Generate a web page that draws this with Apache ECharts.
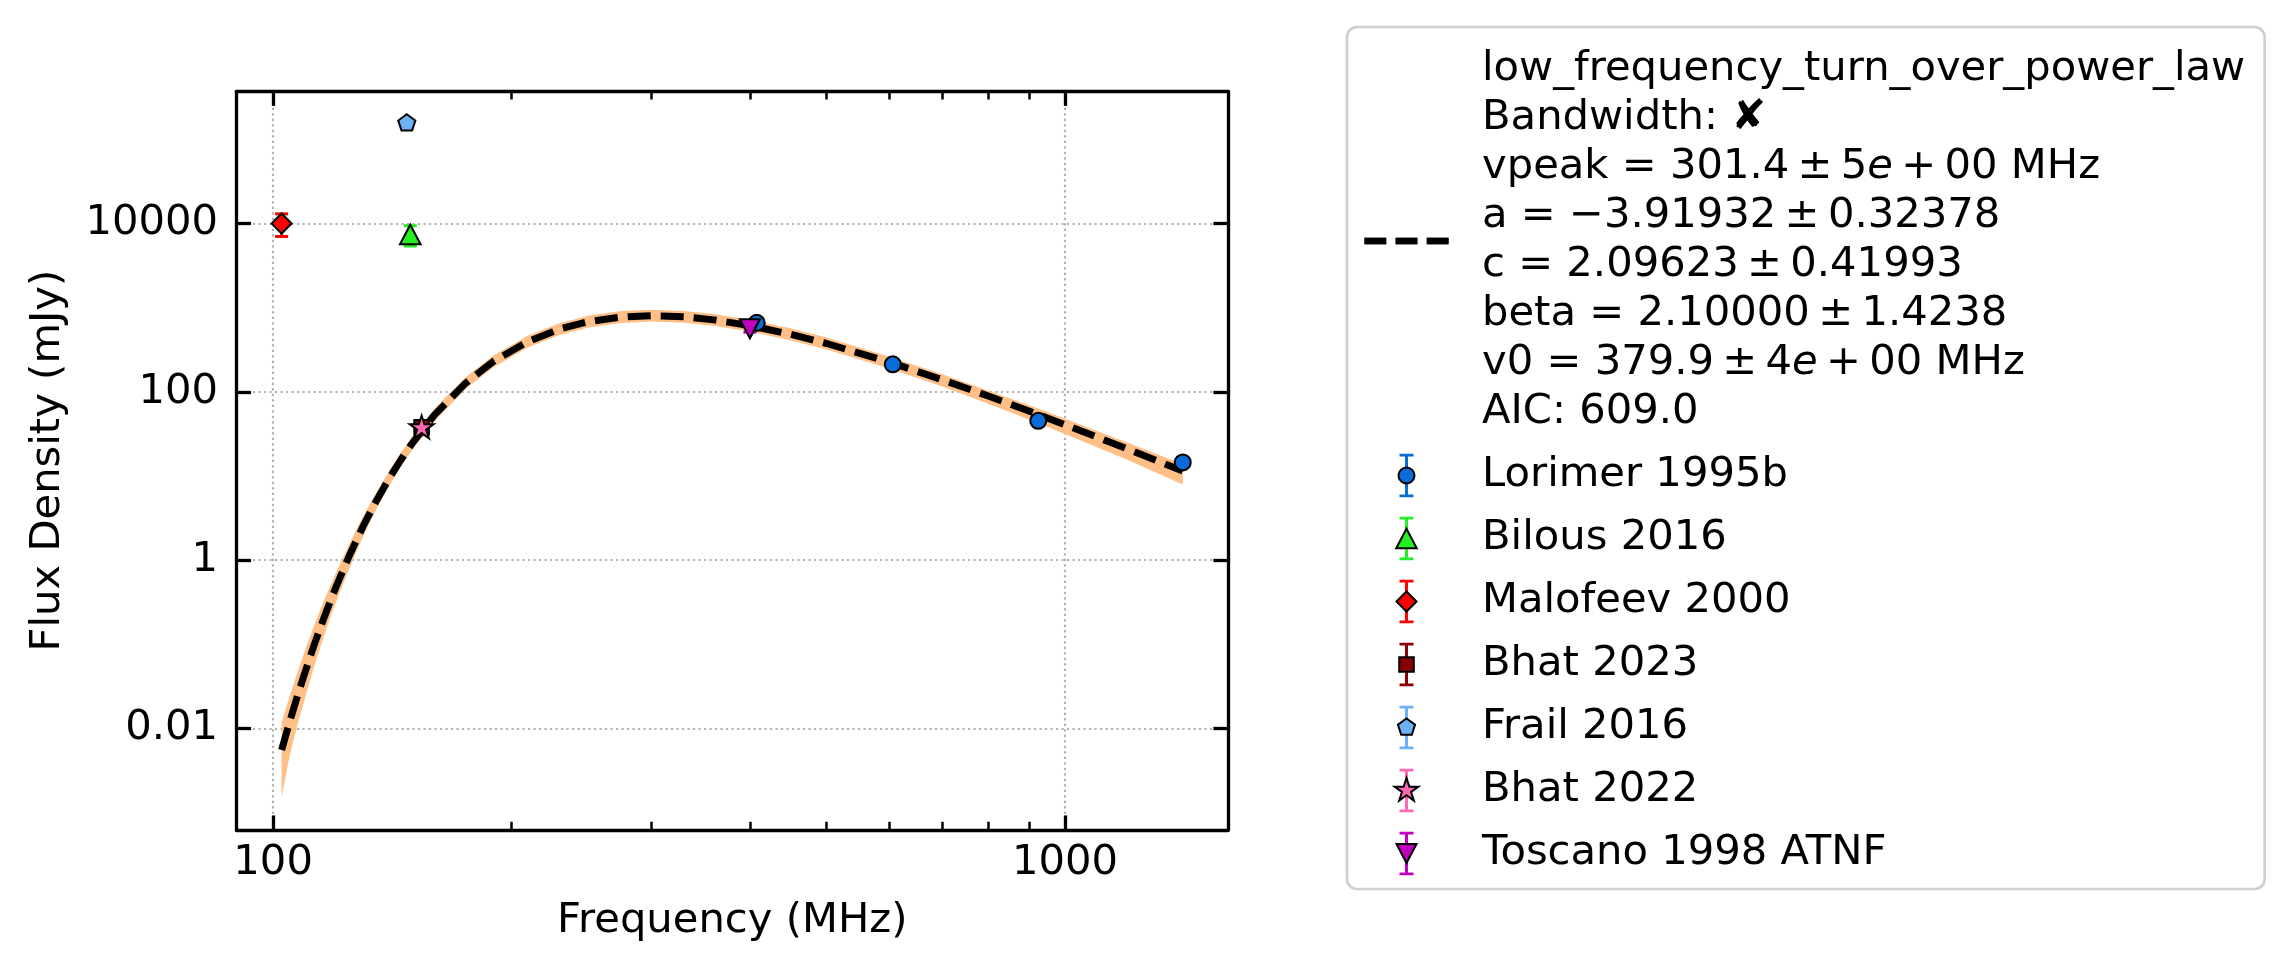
<!DOCTYPE html>
<html>
<head>
<meta charset="utf-8">
<title>Flux density spectrum</title>
<script src="https://cdn.jsdelivr.net/npm/echarts@6.0.0/dist/echarts.min.js"></script>
<style>
  html, body { margin: 0; padding: 0; background: #fff; }
  #chart { width: 2289px; height: 975px; }
</style>
</head>
<body>
<div id="chart"></div>
<script>
// values (frequency in MHz, flux density in mJy)
const lorimerFreq = [408, 606, 925, 1408];
const lorimerFlux = [660, 212, 45.2, 14.5];
const lorimerErr = [66, 21, 4.5, 1.5];

const bilousFreq = [149];
const bilousFlux = [7400];
const bilousErr = [2000];

const malofeevFreq = [102.5];
const malofeevFlux = [10000];
const malofeevErr = [3000];

const bhat23Freq = [154];
const bhat23Flux = [38];
const bhat23Err = [7];

const frailFreq = [147.5];
const frailFlux = [155000];
const frailErr = [15000];

const bhat22Freq = [154];
const bhat22Flux = [37];
const bhat22Err = [3];

const toscanoFreq = [400];
const toscanoFlux = [561];
const toscanoErr = [50];

// fitted curve and its uncertainty band
const fitFreq = [102.5, 105, 107.5, 110, 112.5, 115, 117.5, 120, 125, 130, 135, 140, 145, 150,
  160, 175, 190, 210, 230, 250, 275, 300, 330, 360, 400, 450, 500, 600, 700, 800, 900, 1000, 1200, 1408];
const fitFlux = [0.00556, 0.01228, 0.02553, 0.05016, 0.0944, 0.1688, 0.2876, 0.4748, 1.170, 2.563, 5.060, 9.220, 15.59, 24.78,
  53.63, 126.7, 231.7, 397.6, 556.9, 681.6, 774.5, 803.3, 778.4, 715.6, 611.7, 483.1, 374.9, 225.2, 139.0, 89.0, 59.15, 40.63, 20.85, 11.48];
const bandHigh = [0.01189, 0.0245, 0.0486, 0.0913, 0.1603, 0.2738, 0.4455, 0.7022, 1.615, 3.378, 6.371, 11.34, 18.96, 29.79,
  63.77, 148.9, 272.2, 467.2, 654.4, 800.9, 910.0, 943.9, 914.6, 840.8, 718.7, 567.6, 440.5, 261.5, 161.4, 103.3, 69.50, 47.74, 24.79, 13.80];
const bandLow = [0.00153, 0.00489, 0.01167, 0.02514, 0.0519, 0.0994, 0.1815, 0.3136, 0.828, 1.945, 4.019, 7.496, 12.82, 20.62,
  45.11, 107.8, 197.2, 338.4, 474.0, 580.1, 659.1, 683.7, 662.5, 609.0, 520.6, 411.1, 319.1, 189.4, 115.6, 72.36, 46.98, 31.55, 15.46, 7.945];

// axes
const xRange = [89.9, 1606];
const yRange = [0.000622, 372000];
const xMajorTicks = [100, 1000];
const xMinorTicks = [200, 300, 400, 500, 600, 700, 800, 900];
const yMajorTicks = [0.01, 1, 100, 10000];

// legend text of the fit (thin spaces around the math operators)
const fitName = 'low_frequency_turn_over_power_law';
const fitLines = [
  'low_frequency_turn_over_power_law',
  'Bandwidth: \u2718',
  'vpeak = 301.4\u2009\u00b1\u20095{i|e}\u2009+\u200900 MHz',
  'a = \u22123.91932\u2009\u00b1\u20090.32378',
  'c = 2.09623\u2009\u00b1\u20090.41993',
  'beta = 2.10000\u2009\u00b1\u20091.4238',
  'v0 = 379.9\u2009\u00b1\u20094{i|e}\u2009+\u200900 MHz',
  'AIC: 609.0'
];

const FONT = 'DejaVu Sans';
const FS = 41.7;

// marker shapes in a 26px frame, so one unit is one pixel
const FRAME = 'M-13,-13M13,13';
const MARK = {
  circle: 'M-8,0A8,8 0 1,0 8,0A8,8 0 1,0 -8,0Z',
  triUp: 'M0,-9.8L10.3,9.8L-10.3,9.8Z',
  diamond: 'M0,-10L10,0L0,10L-10,0Z',
  square: 'M-7.3,-7.3H7.3V7.3H-7.3Z',
  pentagon: 'M0,-9L8.56,-2.78L5.29,7.28L-5.29,7.28L-8.56,-2.78Z',
  star: 'M0,-12.5L2.81,-3.86L11.89,-3.86L4.54,1.48L7.35,10.11L0,4.775L-7.35,10.11L-4.54,1.48L-11.89,-3.86L-2.81,-3.86Z',
  triDown: 'M-10,-9.5L10,-9.5L0,9.5Z'
};
const DASH_ICON = 'path://M0,0h23v7h-23z M33,0h23v7h-23z M66,0h23v7h-23z';
const ERR_ICON = 'path://M-7,0H7V2.7H-7Z M-1.5,0H1.5V43.4H-1.5Z M-7,40.7H7V43.4H-7Z';

const sources = [
  { name: 'Lorimer 1995b', color: '#0a6cd6', freq: lorimerFreq, flux: lorimerFlux, err: lorimerErr, mark: MARK.circle },
  { name: 'Bilous 2016', color: '#22f022', freq: bilousFreq, flux: bilousFlux, err: bilousErr, mark: MARK.triUp },
  { name: 'Malofeev 2000', color: '#ff0000', freq: malofeevFreq, flux: malofeevFlux, err: malofeevErr, mark: MARK.diamond },
  { name: 'Bhat 2023', color: '#8b0000', freq: bhat23Freq, flux: bhat23Flux, err: bhat23Err, mark: MARK.square },
  { name: 'Frail 2016', color: '#6db0f6', freq: frailFreq, flux: frailFlux, err: frailErr, mark: MARK.pentagon },
  { name: 'Bhat 2022', color: '#ff69b4', freq: bhat22Freq, flux: bhat22Flux, err: bhat22Err, mark: MARK.star },
  { name: 'Toscano 1998 ATNF', color: '#bf00bf', freq: toscanoFreq, flux: toscanoFlux, err: toscanoErr, mark: MARK.triDown }
];

const chart = echarts.init(document.getElementById('chart'));

function bandRender(params, api) {
  if (params.dataIndex !== 0) return null;
  const upper = fitFreq.map((f, i) => api.coord([f, bandHigh[i]]));
  const lower = fitFreq.map((f, i) => api.coord([f, bandLow[i]])).reverse();
  return {
    type: 'polygon',
    shape: { points: upper.concat(lower) },
    style: { fill: '#ffbf86' }
  };
}

function errRender(params, api) {
  const x = api.value(0);
  const top = api.coord([x, api.value(2)]);
  const bot = api.coord([x, api.value(1)]);
  const style = { stroke: api.visual('color'), lineWidth: 3 };
  const cap = 6.5;
  return {
    type: 'group',
    children: [
      { type: 'line', shape: { x1: top[0], y1: top[1], x2: bot[0], y2: bot[1] }, style },
      { type: 'line', shape: { x1: top[0] - cap, y1: top[1], x2: top[0] + cap, y2: top[1] }, style },
      { type: 'line', shape: { x1: bot[0] - cap, y1: bot[1], x2: bot[0] + cap, y2: bot[1] }, style }
    ]
  };
}

const axisFont = { fontFamily: FONT, fontSize: FS, color: '#000' };
const spine = { show: true, onZero: false, lineStyle: { color: '#000', width: 3.3 } };
const majorTick = vals => ({ show: true, inside: true, length: 14.6, customValues: vals, lineStyle: { color: '#000', width: 3.3 } });
const minorTick = vals => ({ show: true, inside: true, length: 8.3, customValues: vals, lineStyle: { color: '#000', width: 2.5 } });
const gridLines = { show: true, lineStyle: { color: '#b0b0b0', width: 2.1, type: [2.1, 3.4] } };
const noLabel = { show: false };
const noSplit = { show: false };
const plainNumber = v => String(v);

const series = [
  {
    type: 'custom', name: 'fit band', renderItem: bandRender, silent: true, z: 1,
    data: fitFreq.map((f, i) => [f, bandLow[i], bandHigh[i]]),
    encode: { x: 0, y: [1, 2] }
  },
  {
    type: 'line', name: fitName, z: 2, silent: true, showSymbol: false,
    data: fitFreq.map((f, i) => [f, fitFlux[i]]),
    itemStyle: { color: '#000' },
    lineStyle: { color: '#000', width: 7, type: [23, 10], cap: 'butt' }
  }
];
sources.forEach(s => {
  series.push({
    type: 'custom', name: s.name + ' error', renderItem: errRender, silent: true, z: 3,
    itemStyle: { color: s.color },
    data: s.freq.map((f, i) => [f, s.flux[i] - s.err[i], s.flux[i] + s.err[i]]),
    encode: { x: 0, y: [1, 2] }
  });
  series.push({
    type: 'scatter', name: s.name, z: 3, silent: true,
    symbol: 'path://' + FRAME + s.mark, symbolSize: 26, symbolKeepAspect: true,
    itemStyle: { color: s.color, borderColor: '#000', borderWidth: 2, opacity: 1 },
    data: s.freq.map((f, i) => [f, s.flux[i]])
  });
});

const legendCommon = {
  orient: 'vertical', left: 1347, top: 27,
  padding: [18, 19.5, 11, 17.5],
  itemWidth: 84, itemGap: 14, selectedMode: false
};

const option = {
  animation: false,
  backgroundColor: '#fff',
  textStyle: { fontFamily: FONT },
  grid: { left: 236.5, top: 91.3, width: 991.5, height: 738.7, outerBoundsMode: 'none' },
  legend: [
    Object.assign({}, legendCommon, {
      z: 4, itemHeight: 43.4,
      backgroundColor: '#fff', borderColor: '#cfcfcf', borderWidth: 2.7, borderRadius: 10,
      data: [{ name: fitName, icon: DASH_ICON, itemStyle: { color: '#000', borderWidth: 0 } }]
        .concat(sources.map(s => ({ name: s.name, icon: ERR_ICON, itemStyle: { color: s.color, borderWidth: 0 } }))),
      formatter: name => name === fitName ? fitLines.join('\n').replace(/\{i\|e\}/g, 'e') : name,
      textStyle: { fontFamily: FONT, fontSize: FS, lineHeight: 49, color: 'rgba(0,0,0,0)', padding: [0, 0, 0, 28.5] }
    }),
    Object.assign({}, legendCommon, {
      z: 5, itemHeight: 26,
      data: [{ name: fitName, icon: DASH_ICON, itemStyle: { color: '#000', borderWidth: 0 } }]
        .concat(sources.map(s => ({
          name: s.name, icon: 'path://' + FRAME + s.mark,
          itemStyle: { color: s.color, borderColor: '#000', borderWidth: 2 }
        }))),
      formatter: name => name === fitName ? fitLines.join('\n') : name,
      textStyle: {
        fontFamily: FONT, fontSize: FS, lineHeight: 49, color: '#000', padding: [0, 0, 0, 28.5],
        rich: { i: { fontFamily: FONT, fontSize: FS, lineHeight: 49, fontStyle: 'italic', color: '#000' } }
      }
    })
  ],
  xAxis: [
    {
      type: 'log', min: xRange[0], max: xRange[1], position: 'bottom',
      axisLine: spine, axisTick: majorTick(xMajorTicks),
      axisLabel: Object.assign({ customValues: xMajorTicks, formatter: plainNumber, margin: 12 }, axisFont),
      splitLine: gridLines,
      name: 'Frequency (MHz)', nameLocation: 'middle', nameGap: 70, nameTextStyle: axisFont
    },
    {
      type: 'log', min: xRange[0], max: xRange[1], position: 'bottom',
      axisLine: { show: false }, axisTick: minorTick(xMinorTicks), axisLabel: noLabel, splitLine: noSplit
    },
    {
      type: 'log', min: xRange[0], max: xRange[1], position: 'top',
      axisLine: spine, axisTick: majorTick(xMajorTicks), axisLabel: noLabel, splitLine: noSplit
    },
    {
      type: 'log', min: xRange[0], max: xRange[1], position: 'top',
      axisLine: { show: false }, axisTick: minorTick(xMinorTicks), axisLabel: noLabel, splitLine: noSplit
    }
  ],
  yAxis: [
    {
      type: 'log', min: yRange[0], max: yRange[1], position: 'left',
      axisLine: spine, axisTick: majorTick(yMajorTicks),
      axisLabel: Object.assign({ customValues: yMajorTicks, formatter: plainNumber, margin: 18.5 }, axisFont),
      splitLine: gridLines,
      name: 'Flux Density (mJy)', nameLocation: 'middle', nameGap: 167, nameTextStyle: axisFont
    },
    {
      type: 'log', min: yRange[0], max: yRange[1], position: 'right',
      axisLine: spine, axisTick: majorTick(yMajorTicks), axisLabel: noLabel, splitLine: noSplit
    }
  ],
  series: series
};

chart.setOption(option);
</script>
</body>
</html>
